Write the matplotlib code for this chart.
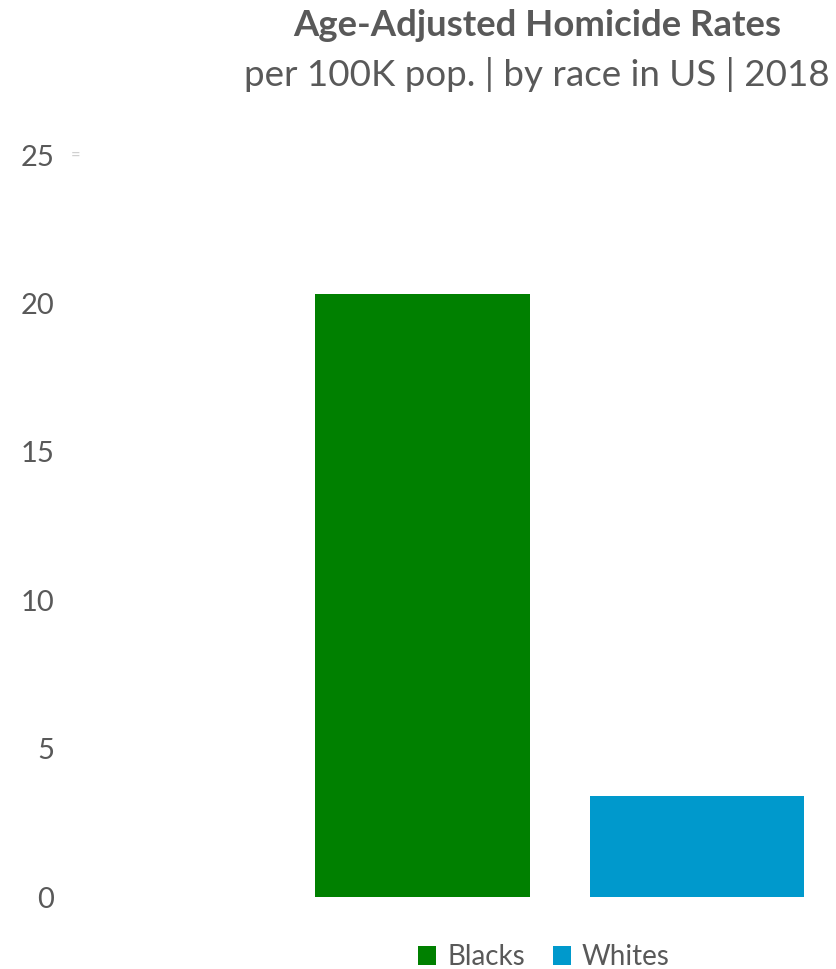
import matplotlib.pyplot as plt

# data
races = ["Blacks", "Whites"]
rates = [20.3, 3.4]
colors = ["#008000", "#0099cc"]
yticks = [0, 5, 10, 15, 20, 25]

plt.rcParams['font.family'] = ['Lato', 'DejaVu Sans']
TXT = "#595959"

fig = plt.figure(figsize=(8.37, 9.69), dpi=100)
ax = fig.add_axes([85 / 837, 1 - 897 / 969, 1 - 85 / 837, 742 / 969])

bars = ax.bar(range(len(races)), rates, width=0.783, color=colors, label=races)
ax.set_xlim(-1.23, 1.51)
ax.set_ylim(0, 25)
ax.set_yticks(yticks)
ax.set_xticks([])
ax.tick_params(axis='y', length=0, pad=22, labelsize=21, labelcolor=TXT)
for lbl in ax.get_yticklabels():
    lbl.set_horizontalalignment('right')
for s in ax.spines.values():
    s.set_visible(False)

# faint leftover mark next to the top tick
fig.text(76 / 837, 1 - 155 / 969, "=", color="#d0d0d0", fontsize=12,
         ha='center', va='center')

fig.text(537 / 837, 1 - 26 / 969, "Age-Adjusted Homicide Rates", ha='center',
         va='center', fontsize=26.3, fontweight='bold', color=TXT)
fig.text(537 / 837, 1 - 74 / 969, "per 100K pop. | by race in US | 2018",
         ha='center', va='center', fontsize=26.5, color=TXT)

leg = fig.legend(handles=list(bars), labels=races, loc='center',
                 bbox_to_anchor=(544 / 837, 1 - 957 / 969), ncol=2, frameon=False,
                 fontsize=20, handlelength=0.65, handleheight=0.65,
                 handletextpad=0.4, columnspacing=1.0)
for t in leg.get_texts():
    t.set_color(TXT)

fig.savefig("out.png", dpi=100)
